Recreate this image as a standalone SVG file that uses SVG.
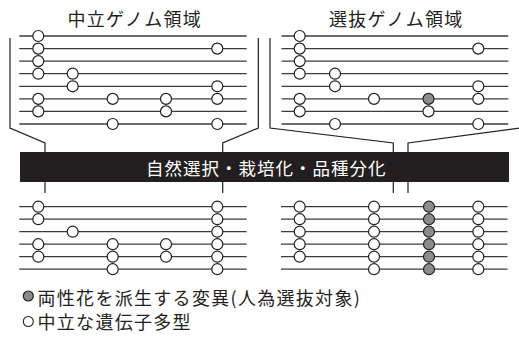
<svg xmlns="http://www.w3.org/2000/svg" xmlns:xlink="http://www.w3.org/1999/xlink" width="519" height="337" viewBox="0 0 519 337">
<style>
.ln{stroke:#3c3c3c;stroke-width:1.3;fill:none}
.br{stroke:#231f20;stroke-width:1.2;fill:none}
.c{fill:#fff;stroke:#231f20;stroke-width:1.2}
.g{fill:#8c8c8c;stroke:#231f20;stroke-width:1.2}
.t{font-family:"Noto Sans CJK JP","Noto Sans",sans-serif;font-size:18px;fill:#231f20;letter-spacing:1.3px}
.bt{font-family:"Noto Sans CJK JP","Noto Sans",sans-serif;font-size:17.5px;fill:#fff;letter-spacing:1px}
</style>
<defs>
<circle id="w" r="5.5" class="c"/>
<circle id="s" r="5.5" class="g"/>
</defs>
<rect width="519" height="337" fill="#fff"/>

<g id="connectors">
<path class="br" d="M10,38 V128 L45,143 V152"/>
<path class="br" d="M258.3,38 V128 L222.7,143 V152"/>
<path class="br" d="M270,38 V128 L393.3,143 V152"/>
<path class="br" d="M520,128 L408,143 V152"/>
<path class="br" d="M45,182 V193 M222.7,182 V193 M393.3,182 V193 M408,182 V193"/>
</g>

<g id="title-neutral"><text class="t" x="67.5" y="25.5">中立ゲノム領域</text></g>
<g id="title-selected"><text class="t" x="329" y="25.5">選抜ゲノム領域</text></g>

<g id="neutral-before">
<path class="ln" d="M19.3,36H246.7M19.3,48.6H246.7M19.3,61.1H246.7M19.3,73.7H246.7M19.3,86.3H246.7M19.3,98.9H246.7M19.3,111.4H246.7M19.3,124H246.7"/>
<use xlink:href="#w" x="38.3" y="36"/>
<use xlink:href="#w" x="38.3" y="48.6"/><use xlink:href="#w" x="217.3" y="48.6"/>
<use xlink:href="#w" x="38.3" y="61.1"/>
<use xlink:href="#w" x="38.3" y="73.7"/><use xlink:href="#w" x="72.7" y="73.7"/>
<use xlink:href="#w" x="72.7" y="86.3"/><use xlink:href="#w" x="217.3" y="86.3"/>
<use xlink:href="#w" x="38.3" y="98.9"/><use xlink:href="#w" x="112.7" y="98.9"/><use xlink:href="#w" x="166" y="98.9"/><use xlink:href="#w" x="217.3" y="98.9"/>
<use xlink:href="#w" x="38.3" y="111.4"/><use xlink:href="#w" x="166" y="111.4"/>
<use xlink:href="#w" x="112.7" y="124"/><use xlink:href="#w" x="217.3" y="124"/>
</g>

<g id="selected-before">
<path class="ln" d="M281.5,36H508.3M281.5,48.6H508.3M281.5,61.1H508.3M281.5,73.7H508.3M281.5,86.3H508.3M281.5,98.9H508.3M281.5,111.4H508.3M281.5,124H508.3"/>
<use xlink:href="#w" x="299.7" y="36"/>
<use xlink:href="#w" x="299.7" y="48.6"/><use xlink:href="#w" x="478.3" y="48.6"/>
<use xlink:href="#w" x="299.7" y="61.1"/>
<use xlink:href="#w" x="299.7" y="73.7"/><use xlink:href="#w" x="335" y="73.7"/>
<use xlink:href="#w" x="335" y="86.3"/><use xlink:href="#w" x="478.3" y="86.3"/>
<use xlink:href="#w" x="299.7" y="98.9"/><use xlink:href="#w" x="374" y="98.9"/><use xlink:href="#s" x="428.5" y="98.9"/><use xlink:href="#w" x="478.3" y="98.9"/>
<use xlink:href="#w" x="299.7" y="111.4"/><use xlink:href="#w" x="428.5" y="111.4"/>
<use xlink:href="#w" x="335" y="124"/><use xlink:href="#w" x="478.3" y="124"/>
</g>

<g id="process-bar">
<rect x="20" y="152" width="489" height="30" fill="#231f20"/>
<text class="bt" x="146" y="175">自然選択・栽培化・品種分化</text>
</g>

<g id="neutral-after">
<path class="ln" d="M19.3,206.7H246.7M19.3,219.2H246.7M19.3,231.7H246.7M19.3,244.2H246.7M19.3,256.7H246.7M19.3,269.2H246.7"/>
<use xlink:href="#w" x="38.3" y="206.7"/><use xlink:href="#w" x="217.3" y="206.7"/>
<use xlink:href="#w" x="38.3" y="219.2"/><use xlink:href="#w" x="217.3" y="219.2"/>
<use xlink:href="#w" x="72.7" y="231.7"/><use xlink:href="#w" x="217.3" y="231.7"/>
<use xlink:href="#w" x="38.3" y="244.2"/><use xlink:href="#w" x="112.7" y="244.2"/><use xlink:href="#w" x="166" y="244.2"/><use xlink:href="#w" x="217.3" y="244.2"/>
<use xlink:href="#w" x="38.3" y="256.7"/><use xlink:href="#w" x="112.7" y="256.7"/><use xlink:href="#w" x="166" y="256.7"/><use xlink:href="#w" x="217.3" y="256.7"/>
<use xlink:href="#w" x="112.7" y="269.2"/><use xlink:href="#w" x="217.3" y="269.2"/>
</g>

<g id="selected-after">
<path class="ln" d="M281,206.7H507.5M281,219.2H507.5M281,231.7H507.5M281,244.2H507.5M281,256.7H507.5M281,269.2H507.5"/>
<use xlink:href="#w" x="299.7" y="206.7"/><use xlink:href="#w" x="374" y="206.7"/><use xlink:href="#s" x="429" y="206.7"/><use xlink:href="#w" x="478.3" y="206.7"/>
<use xlink:href="#w" x="299.7" y="219.2"/><use xlink:href="#w" x="374" y="219.2"/><use xlink:href="#s" x="429" y="219.2"/><use xlink:href="#w" x="478.3" y="219.2"/>
<use xlink:href="#w" x="299.7" y="231.7"/><use xlink:href="#w" x="374" y="231.7"/><use xlink:href="#s" x="429" y="231.7"/><use xlink:href="#w" x="478.3" y="231.7"/>
<use xlink:href="#w" x="299.7" y="244.2"/><use xlink:href="#w" x="374" y="244.2"/><use xlink:href="#s" x="429" y="244.2"/><use xlink:href="#w" x="478.3" y="244.2"/>
<use xlink:href="#w" x="299.7" y="256.7"/><use xlink:href="#w" x="374" y="256.7"/><use xlink:href="#s" x="429" y="256.7"/><use xlink:href="#w" x="478.3" y="256.7"/>
<use xlink:href="#w" x="374" y="269.2"/><use xlink:href="#s" x="429" y="269.2"/><use xlink:href="#w" x="478.3" y="269.2"/>
</g>

<g id="legend">
<circle cx="28.3" cy="296" r="5" class="g"/>
<text class="t" x="37.5" y="305">両性花を派生する変異(人為選抜対象)</text>
<circle cx="28.3" cy="321.5" r="5" fill="#fff" stroke="#231f20" stroke-width="1.1"/>
<text class="t" x="37.5" y="328.5">中立な遺伝子多型</text>
</g>
</svg>
